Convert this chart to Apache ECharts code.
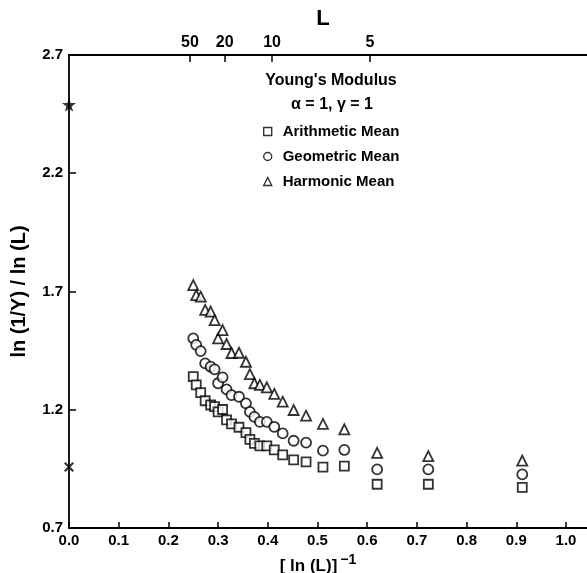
<!DOCTYPE html>
<html>
<head>
<meta charset="utf-8">
<script src="https://cdn.jsdelivr.net/npm/echarts@6/dist/echarts.min.js"></script>
<style>
html,body{margin:0;padding:0;background:#fff;}
#c{width:587px;height:573px;}
</style>
</head>
<body>
<div id="c"></div>
<script>
// ---- data ----
var xVals = [0.250,0.256,0.265,0.274,0.285,0.293,0.300,0.309,0.317,0.327,0.342,0.356,0.364,0.373,0.384,0.398,0.413,0.430,0.452,0.477,0.511,0.554,0.620,0.723,0.912];
var arithmetic = [1.340,1.305,1.272,1.238,1.220,1.213,1.191,1.201,1.157,1.140,1.126,1.103,1.075,1.058,1.047,1.047,1.030,1.009,0.988,0.980,0.957,0.962,0.885,0.885,0.872];
var geometric  = [1.502,1.474,1.448,1.396,1.382,1.371,1.312,1.337,1.286,1.262,1.255,1.227,1.191,1.170,1.149,1.149,1.128,1.100,1.069,1.061,1.027,1.030,0.948,0.948,0.927];
var harmonic   = [1.727,1.685,1.678,1.622,1.615,1.579,1.502,1.537,1.478,1.440,1.441,1.403,1.351,1.312,1.305,1.295,1.267,1.234,1.199,1.175,1.140,1.117,1.018,1.004,0.985];
var starPoint  = [0, 2.49];
var crossPoint = [0, 0.958];
var seriesNames = ['Arithmetic Mean','Geometric Mean','Harmonic Mean'];
var topTickValues = [0.2435, 0.3133, 0.4085, 0.6056];
var topTickLabels = ['50','20','10','5'];
var bottomTickValues = [0,0.1,0.2,0.3,0.4,0.5,0.6,0.7,0.8,0.9,1.0];

function pairs(xs, ys){ return xs.map(function(x,i){ return [x, ys[i]]; }); }

var FONT = '"Liberation Sans", Arial, sans-serif';
var chart = echarts.init(document.getElementById('c'), null, {renderer:'canvas'});
var markStyle = {color:'#fff', borderColor:'#000', borderWidth:1.8};
var XMAX = (587-69)/497;

var option = {
  backgroundColor:'#fff',
  animation:false,
  grid:{left:69, right:0, top:55, bottom:45, containLabel:false, outerBoundsMode:'none'},
  legend:{
    orient:'vertical', left:258, top:119, itemGap:10,
    itemWidth:8, itemHeight:8,
    data:seriesNames,
    itemStyle:{color:'#fff', borderColor:'#000', borderWidth:1.4},
    textStyle:{fontFamily:FONT, fontWeight:'bold', fontSize:15, color:'#000', padding:[0,0,0,6]}
  },
  graphic:[
    {type:'text', x:331, y:81, style:{text:"Young's Modulus", textAlign:'center', textVerticalAlign:'middle', font:'bold 16px '+FONT, fill:'#000'}},
    {type:'text', x:332, y:105, style:{text:'α = 1, γ = 1', textAlign:'center', textVerticalAlign:'middle', font:'bold 16px '+FONT, fill:'#000'}}
  ],
  xAxis:[
    {
      type:'value', position:'bottom', min:0, max:XMAX,
      name:'[ ln (L)]{sup|−1}', nameLocation:'middle', nameGap:25,
      nameTextStyle:{fontFamily:FONT, fontWeight:'bold', fontSize:17, color:'#000', padding:[0,20,0,0],
        rich:{sup:{fontFamily:FONT, fontWeight:'bold', fontSize:14, color:'#000', verticalAlign:'top', padding:[0,0,12,3]}}},
      axisLine:{lineStyle:{color:'#000', width:1.8}},
      axisTick:{inside:true, length:6, lineStyle:{color:'#000', width:1.5}, customValues:bottomTickValues},
      axisLabel:{customValues:bottomTickValues, formatter:function(v){return v.toFixed(1);}, fontFamily:FONT, fontWeight:'bold', fontSize:15, color:'#000', margin:5},
      splitLine:{show:false}
    },
    {
      type:'value', position:'top', min:0, max:XMAX,
      name:'L', nameLocation:'middle', nameGap:19,
      nameTextStyle:{fontFamily:FONT, fontWeight:'bold', fontSize:22, color:'#000', padding:[0,10,0,0]},
      axisLine:{lineStyle:{color:'#000', width:1.8}},
      axisTick:{inside:true, length:7, lineStyle:{color:'#000', width:1.5}, customValues:topTickValues},
      axisLabel:{customValues:topTickValues, formatter:function(v){var i=topTickValues.indexOf(v); return i>=0?topTickLabels[i]:'';}, fontFamily:FONT, fontWeight:'bold', fontSize:16, color:'#000', margin:4},
      splitLine:{show:false}
    }
  ],
  yAxis:{
    type:'value', min:0.7, max:2.7, interval:0.5,
    name:'ln (1/Y) / ln (L)', nameLocation:'middle', nameGap:40,
    nameTextStyle:{fontFamily:FONT, fontWeight:'bold', fontSize:20, color:'#000'},
    axisLine:{show:true, lineStyle:{color:'#000', width:1.8}},
    axisTick:{show:true, inside:true, length:7, lineStyle:{color:'#000', width:1.5}},
    axisLabel:{formatter:function(v){return v.toFixed(1);}, fontFamily:FONT, fontWeight:'bold', fontSize:15, color:'#000', margin:6},
    splitLine:{show:false}
  },
  series:[
    {name:seriesNames[0], type:'scatter', symbol:'rect', symbolSize:9, itemStyle:markStyle, data:pairs(xVals, arithmetic)},
    {name:seriesNames[1], type:'scatter', symbol:'circle', symbolSize:10, itemStyle:markStyle, data:pairs(xVals, geometric)},
    {name:seriesNames[2], type:'scatter', symbol:'triangle', symbolSize:10, itemStyle:markStyle, data:pairs(xVals, harmonic)},
    {name:'star', type:'scatter', clip:false, symbol:'path://M50,0 L61,35 L98,35 L68,57 L79,91 L50,70 L21,91 L32,57 L2,35 L39,35 Z', symbolSize:14, itemStyle:{color:'#000'}, data:[starPoint]},
    {name:'cross', type:'scatter', clip:false, symbol:'path://M0,15 L15,0 L50,35 L85,0 L100,15 L65,50 L100,85 L85,100 L50,65 L15,100 L0,85 L35,50 Z', symbolSize:10, itemStyle:{color:'#000'}, data:[crossPoint]}
  ]
};
chart.setOption(option);
</script>
</body>
</html>
